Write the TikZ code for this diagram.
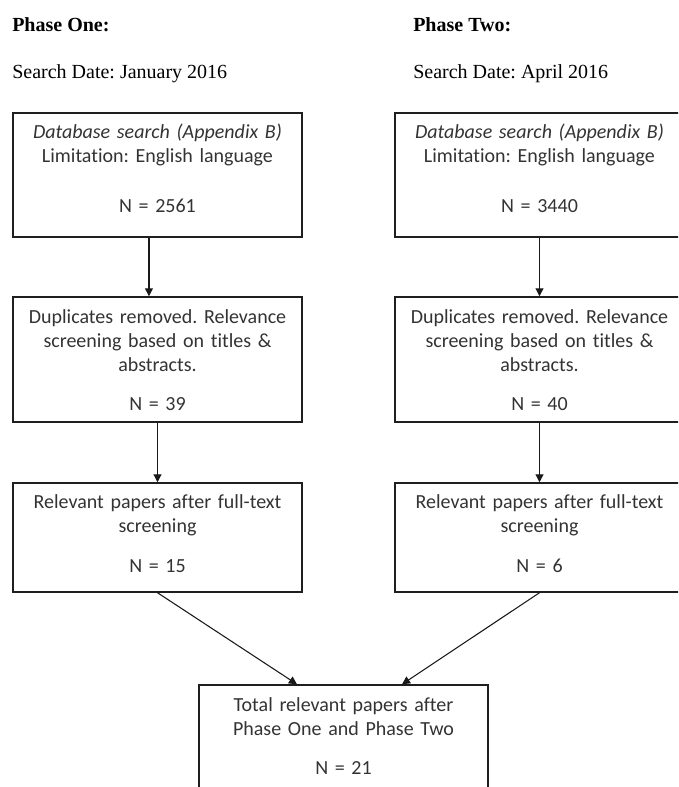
\documentclass[tikz,border=0pt]{standalone}
\usepackage{fontspec}
\setmainfont{Carlito}[Ligatures={NoCommon}]
\newfontfamily\serifhead{Liberation Serif}
\usetikzlibrary{arrows.meta}
\frenchspacing
\begin{document}
\begin{tikzpicture}[x=0.75pt,y=-0.75pt,
  stagebox/.style={draw=black!88, line width=1.1pt, inner sep=0pt,
    minimum width=216.75pt},
  stagetext/.style={text width=210pt, align=center, inner sep=0pt,
    anchor=base, text=black!80, font=\fontsize{15}{18}\selectfont},
  headtext/.style={anchor=base west, inner sep=0pt, text=black,
    font=\serifhead\fontsize{15}{18}\selectfont},
  flow/.style={draw=black!90, line width=0.8pt,
    -{Triangle[length=6pt,width=6pt]}}]

\useasboundingbox (0,0) rectangle (678,787);
\clip (0,0) rectangle (678,787);

% column headings
\node[headtext] (h1) at (12,32) {\bfseries Phase One:};
\node[headtext] (d1) at (12,79) {Search Date: January 2016};
\node[headtext] (h2) at (413,32) {\bfseries Phase Two:};
\node[headtext] (d2) at (413,79) {Search Date: April 2016};

% phase one column
\node[stagebox, minimum height=93pt] (b1) at (157.5,175) {};
\node[stagebox, minimum height=93.75pt] (b2) at (157.5,359.5) {};
\node[stagebox, minimum height=81.75pt] (b3) at (157.5,537.5) {};

% phase two column
\node[stagebox, minimum height=93pt] (r1) at (539.5,175) {};
\node[stagebox, minimum height=93.75pt] (r2) at (539.5,359.5) {};
\node[stagebox, minimum height=81.75pt] (r3) at (539.5,537.5) {};

% combined result
\node[stagebox, minimum height=101.25pt] (tot) at (343.5,752.5) {};

% box texts
\node[stagetext] (b1t) at (157.5,138.5) {\textit{Database search (Appendix B)}\\Limitation: English language\\[19.5pt]N = 2561};
\node[stagetext] (r1t) at (539.5,138.5) {\textit{Database search (Appendix B)}\\Limitation: English language\\[19.5pt]N = 3440};
\node[stagetext] (b2t) at (157.5,323.5) {Duplicates removed. Relevance\\screening based on titles \&\\abstracts.\\[11.25pt]N = 39};
\node[stagetext] (r2t) at (539.5,323.5) {Duplicates removed. Relevance\\screening based on titles \&\\abstracts.\\[11.25pt]N = 40};
\node[stagetext] (b3t) at (157.5,508.5) {Relevant papers after full-text\\screening\\[12pt]N = 15};
\node[stagetext] (r3t) at (539.5,508.5) {Relevant papers after full-text\\screening\\[12pt]N = 6};
\node[stagetext] (tott) at (343.5,711.5) {Total relevant papers after\\Phase One and Phase Two\\[11.25pt]N = 21};

% connectors
\draw[flow] ([xshift=-6.4pt]b1.south) -- ([xshift=-6.4pt]b2.north);
\draw[flow] (b2.south) -- (b3.north);
\draw[flow] (r1.south) -- (r2.north);
\draw[flow] (r2.south) -- (r3.north);
\draw[flow] (b3.south) -- ([xshift=-34.9pt]tot.north);
\draw[flow] (r3.south) -- ([xshift=43.9pt]tot.north);
\end{tikzpicture}
\end{document}
